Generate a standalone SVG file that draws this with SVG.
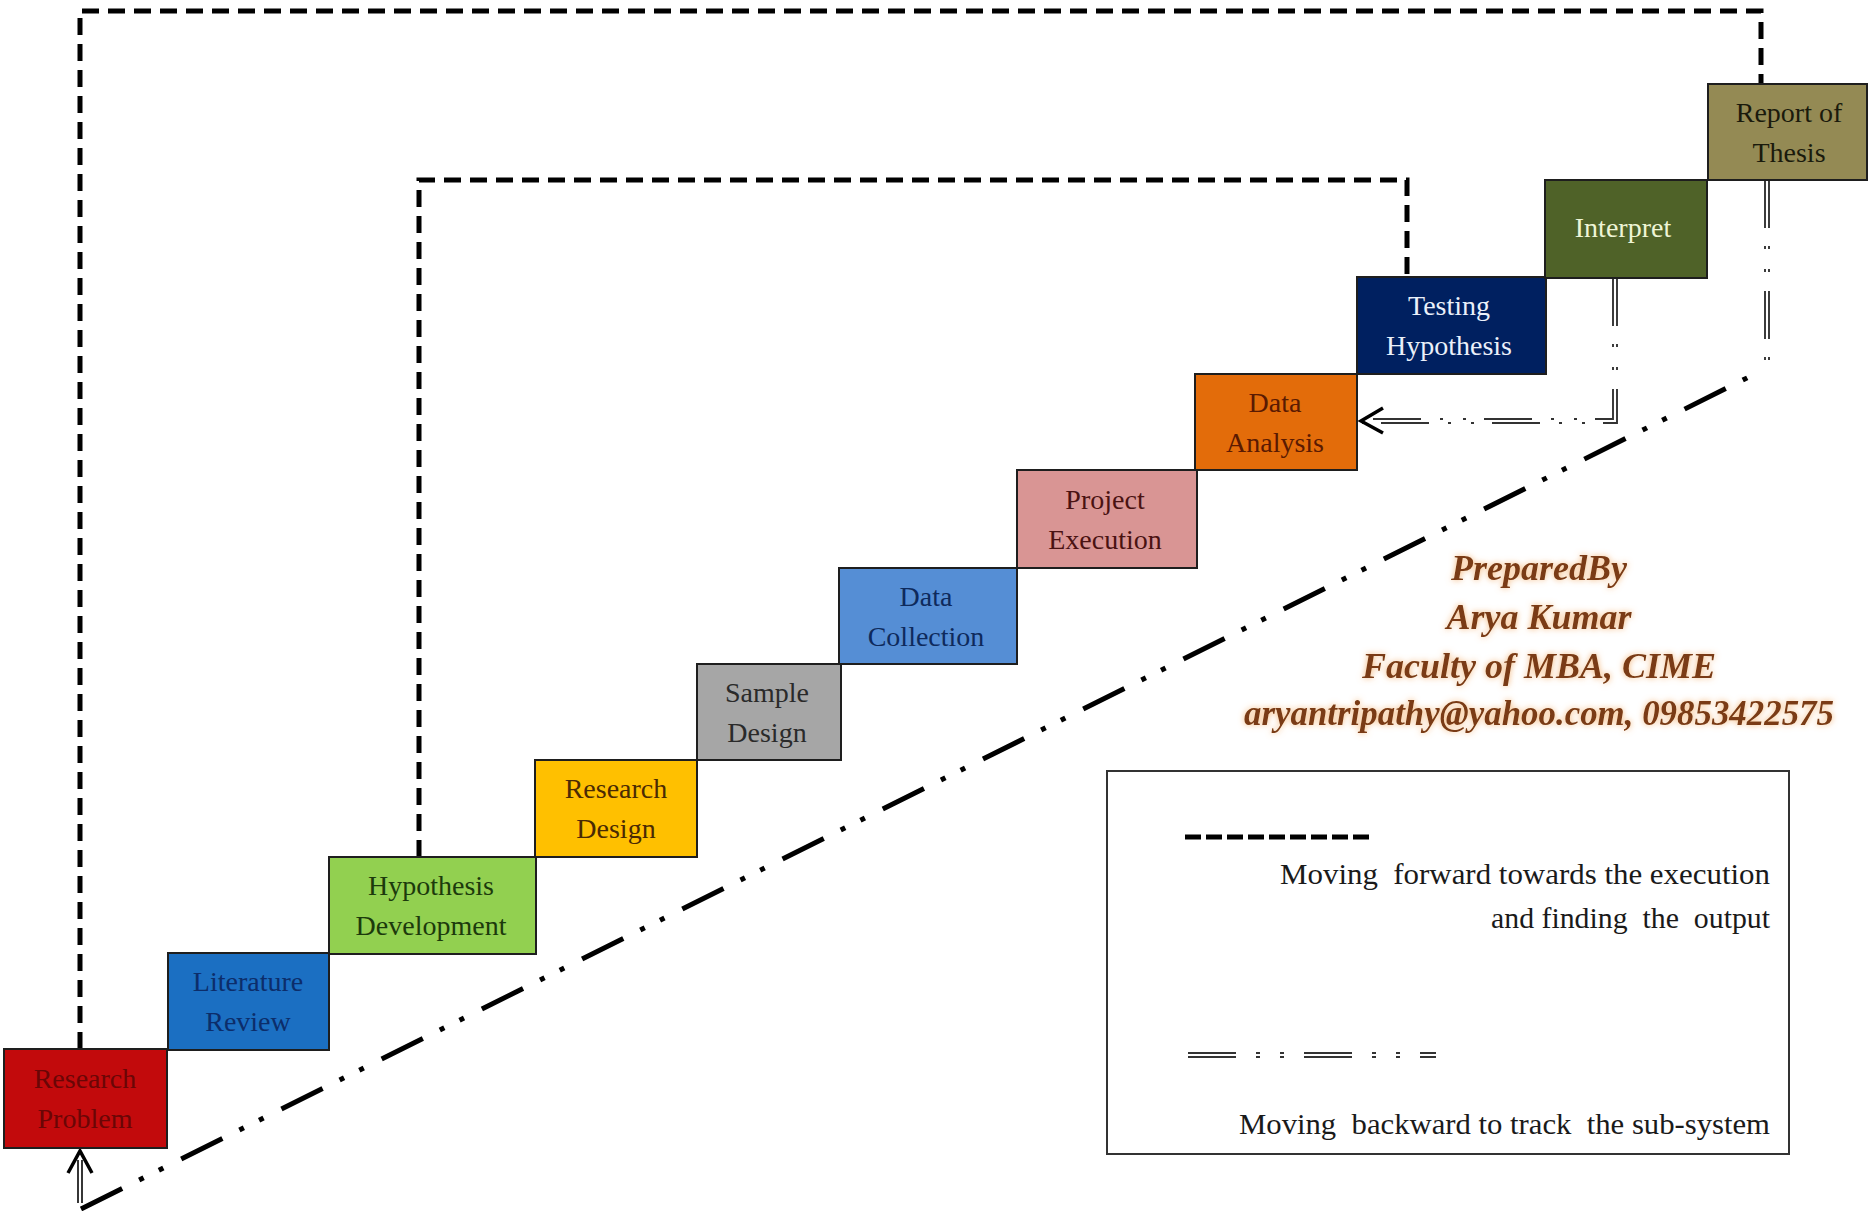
<svg xmlns="http://www.w3.org/2000/svg" width="1868" height="1211" viewBox="0 0 1868 1211">
<defs>
<style>
.box{stroke:#1e1e1e;stroke-width:2}
.lbl{font-family:"Liberation Serif","Times New Roman",serif;font-size:28px;text-anchor:middle}
.fwd{fill:none;stroke:#000;stroke-width:5;stroke-dasharray:17 9}
.dbl{fill:none;stroke:#333;stroke-width:1.9;stroke-dasharray:48 18 3 20 3 19}
.diag{fill:none;stroke:#000;stroke-width:5;stroke-dasharray:46 19 5 17 5 20}
.leg{font-family:"Liberation Serif","Times New Roman",serif;font-size:30px;fill:#1a1a1a;text-anchor:end;white-space:pre}
.prep{font-family:"Liberation Serif","Times New Roman",serif;font-style:italic;font-weight:bold;font-size:36px;fill:#7a3a12;text-anchor:middle}
</style>
<filter id="glow" x="-10%" y="-40%" width="120%" height="180%">
<feGaussianBlur in="SourceAlpha" stdDeviation="3" result="b"/>
<feFlood flood-color="#f2a860" flood-opacity="0.85"/>
<feComposite in2="b" operator="in" result="g"/>
<feMerge><feMergeNode in="g"/><feMergeNode in="SourceGraphic"/></feMerge>
</filter>
</defs>
<rect width="1868" height="1211" fill="#fff"/>

<g id="connectors">
<path class="fwd" d="M80,1049 V11 H1761 V84"/>
<path class="fwd" d="M419,857 V180 H1407 V277"/>
<path class="diag" d="M81,1209 L1757,373"/>
<path class="dbl" d="M1765,180 V372"/>
<path class="dbl" d="M1769,180 V372"/>
<path class="dbl" d="M1613,278 V419 H1362"/>
<path class="dbl" d="M1617,278 V423 H1362"/>
<path d="M1383,408 L1361,421 L1383,433" fill="none" stroke="#000" stroke-width="3.5"/>
<path d="M78,1160 V1203 M82,1160 V1203" fill="none" stroke="#222" stroke-width="1.8"/>
<path d="M68,1173 L80,1151 L92,1173" fill="none" stroke="#000" stroke-width="3.5"/>
</g>

<g id="research-problem">
<rect class="box" x="4" y="1049" width="163" height="99" fill="#C20A0C"/>
<text class="lbl" x="85" y="1088" fill="#6a0606">Research</text>
<text class="lbl" x="85" y="1128" fill="#6a0606">Problem</text>
</g>
<g id="literature-review">
<rect class="box" x="168" y="953" width="161" height="97" fill="#1B6FC2"/>
<text class="lbl" x="248" y="991" fill="#0c2d6a">Literature</text>
<text class="lbl" x="248" y="1031" fill="#0c2d6a">Review</text>
</g>
<g id="hypothesis-development">
<rect class="box" x="329" y="857" width="207" height="97" fill="#92D050"/>
<text class="lbl" x="431" y="895" fill="#1c3a0c">Hypothesis</text>
<text class="lbl" x="431" y="935" fill="#1c3a0c">Development</text>
</g>
<g id="research-design">
<rect class="box" x="535" y="760" width="162" height="97" fill="#FFC000"/>
<text class="lbl" x="616" y="798" fill="#4a2a04">Research</text>
<text class="lbl" x="616" y="838" fill="#4a2a04">Design</text>
</g>
<g id="sample-design">
<rect class="box" x="697" y="664" width="144" height="96" fill="#A6A6A6"/>
<text class="lbl" x="767" y="702" fill="#2a2a2a">Sample</text>
<text class="lbl" x="767" y="742" fill="#2a2a2a">Design</text>
</g>
<g id="data-collection">
<rect class="box" x="839" y="568" width="178" height="96" fill="#558ED5"/>
<text class="lbl" x="926" y="606" fill="#0e2a5c">Data</text>
<text class="lbl" x="926" y="646" fill="#0e2a5c">Collection</text>
</g>
<g id="project-execution">
<rect class="box" x="1017" y="470" width="180" height="98" fill="#D99594"/>
<text class="lbl" x="1105" y="509" fill="#4a1212">Project</text>
<text class="lbl" x="1105" y="549" fill="#4a1212">Execution</text>
</g>
<g id="data-analysis">
<rect class="box" x="1195" y="374" width="162" height="96" fill="#E36C0A"/>
<text class="lbl" x="1275" y="412" fill="#5a1a02">Data</text>
<text class="lbl" x="1275" y="452" fill="#5a1a02">Analysis</text>
</g>
<g id="testing-hypothesis">
<rect class="box" x="1357" y="277" width="189" height="97" fill="#002060"/>
<text class="lbl" x="1449" y="315" fill="#eaf0fa">Testing</text>
<text class="lbl" x="1449" y="355" fill="#eaf0fa">Hypothesis</text>
</g>
<g id="interpret">
<rect class="box" x="1545" y="180" width="162" height="98" fill="#4F6228"/>
<text class="lbl" x="1623" y="237" fill="#eef5d6">Interpret</text>
</g>
<g id="report-of-thesis">
<rect class="box" x="1708" y="84" width="159" height="96" fill="#948A54"/>
<text class="lbl" x="1789" y="122" fill="#1a1a0c">Report of</text>
<text class="lbl" x="1789" y="162" fill="#1a1a0c">Thesis</text>
</g>

<g id="credits" filter="url(#glow)">
<text class="prep" x="1539" y="580">PreparedBy</text>
<text class="prep" x="1539" y="629">Arya Kumar</text>
<text class="prep" x="1539" y="678">Faculty of MBA, CIME</text>
<text class="prep" x="1539" y="725" textLength="590" lengthAdjust="spacingAndGlyphs">aryantripathy@yahoo.com, 09853422575</text>
</g>

<g id="legend">
<rect x="1107" y="771" width="682" height="383" fill="#fff" stroke="#333" stroke-width="2"/>
<path d="M1185,837 H1371" fill="none" stroke="#000" stroke-width="5" stroke-dasharray="16 5"/>
<text class="leg" x="1770" y="884" textLength="490" lengthAdjust="spacingAndGlyphs">Moving  forward towards the execution</text>
<text class="leg" x="1770" y="928" textLength="279" lengthAdjust="spacingAndGlyphs">and finding  the  output</text>
<path d="M1188,1053 H1436 M1188,1057 H1436" fill="none" stroke="#333" stroke-width="1.8" stroke-dasharray="48 20 4 20 4 20"/>
<text class="leg" x="1770" y="1134" textLength="531" lengthAdjust="spacingAndGlyphs">Moving  backward to track  the sub-system</text>
</g>
</svg>
